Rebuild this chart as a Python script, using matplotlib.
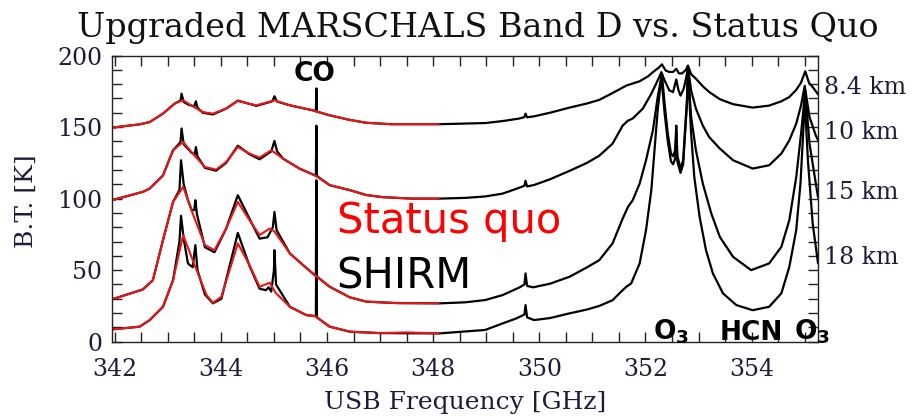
import numpy as np
import matplotlib
matplotlib.use("Agg")
import matplotlib.pyplot as plt
from matplotlib.ticker import MultipleLocator

# ---- data (frequency in GHz, brightness temperature in K) ----
altitudes = ["8.4 km", "10 km", "15 km", "18 km"]

# Status quo (red), 342-348 GHz only
sq_f_84 = [341.95, 342.47, 342.66, 342.91, 343.13, 343.29, 343.47, 343.66, 343.85, 344.10, 344.32,
           344.67, 345.01, 345.30, 345.73, 346.05, 346.43, 346.74, 347.20, 347.70, 348.10]
sq_t_84 = [149.6, 151.9, 153.5, 159.4, 166.4, 168.7, 164.5, 160.5, 159.4, 162.9, 168.2,
           165.2, 168.7, 165.2, 161.7, 158.2, 155.0, 153.0, 152.0, 152.0, 152.0]

sq_f_10 = [341.95, 342.53, 342.66, 342.91, 343.10, 343.29, 343.47, 343.70, 343.91, 344.10, 344.32,
           344.54, 344.73, 344.95, 345.17, 345.48, 345.77, 346.05, 346.43, 346.74, 347.05, 347.60, 348.10]
sq_t_10 = [98.9, 104.7, 107.0, 116.2, 133.8, 139.6, 131.5, 122.1, 120.3, 125.6, 136.0,
           131.5, 128.7, 133.8, 128.0, 121.0, 116.3, 109.4, 105.9, 102.5, 101.0, 100.0, 100.0]

sq_f_15 = [341.95, 342.53, 342.72, 342.91, 343.10, 343.29, 343.47, 343.70, 343.88, 344.10, 344.32,
           344.54, 344.73, 344.92, 345.01, 345.30, 345.55, 345.77, 346.05, 346.43, 346.74, 347.30, 348.10]
sq_t_15 = [29.6, 36.5, 43.0, 71.0, 97.7, 108.2, 89.6, 67.5, 64.0, 79.1, 97.7,
           84.9, 74.5, 79.1, 77.0, 61.7, 53.5, 46.5, 38.4, 31.0, 28.0, 27.0, 26.8]

sq_f_18 = [341.95, 342.47, 342.66, 342.91, 343.10, 343.29, 343.47, 343.73, 343.85, 344.01, 344.32,
           344.54, 344.73, 344.92, 345.04, 345.30, 345.61, 345.77, 346.05, 346.43, 347.00, 347.50, 348.10]
sq_t_18 = [8.6, 10.5, 15.1, 24.4, 43.0, 74.5, 57.0, 32.6, 27.2, 31.4, 68.7,
           53.5, 38.4, 41.2, 33.8, 24.4, 18.6, 17.9, 10.5, 7.0, 6.0, 6.5, 5.8]

# SHIRM (black), full band
sh_f_84 = [341.95, 342.47, 342.66, 342.91, 343.13, 343.24, 343.26, 343.30, 343.40, 343.50, 343.53,
           343.56, 343.66, 343.85, 344.10, 344.32, 344.67, 344.97, 345.01, 345.06, 345.30, 345.73,
           345.79, 345.80, 345.81, 346.05, 346.43, 346.74, 347.20, 347.70, 348.12, 348.98, 349.31,
           349.63, 349.72, 349.74, 349.77, 349.90, 350.20, 350.57, 350.90, 351.13, 351.38, 351.64,
           351.89, 352.05, 352.14, 352.25, 352.31, 352.38, 352.45, 352.52, 352.58, 352.63, 352.69,
           352.76, 352.80, 352.86, 352.95, 353.08, 353.20, 353.40, 353.65, 354.02, 354.33, 354.56,
           354.71, 354.84, 354.93, 355.01, 355.08, 355.15, 355.25]
sh_t_84 = [149.6, 151.9, 153.5, 159.4, 166.4, 168.5, 173.3, 167.5, 165.5, 164.5, 168.0,
           163.5, 160.0, 158.8, 162.9, 168.5, 164.8, 168.0, 171.5, 167.8, 165.2, 161.7,
           161.0, 177.0, 160.8, 158.2, 155.0, 153.0, 152.0, 152.0, 152.0, 152.8, 154.2,
           156.0, 157.0, 159.4, 156.8, 157.5, 160.0, 163.6, 166.5, 169.0, 173.8, 179.0,
           182.0, 185.5, 188.4, 191.5, 193.8, 189.5, 188.5, 188.5, 190.7, 187.5, 187.5,
           190.0, 193.0, 187.0, 183.8, 178.5, 174.5, 169.5, 166.0, 163.6, 165.0, 168.0,
           171.0, 176.0, 181.0, 189.0, 181.0, 178.0, 173.0]

sh_f_10 = [341.95, 342.53, 342.66, 342.91, 343.10, 343.24, 343.26, 343.30, 343.45, 343.51, 343.53,
           343.56, 343.70, 343.91, 344.10, 344.32, 344.54, 344.73, 344.95, 345.01, 345.06, 345.17,
           345.48, 345.77, 345.79, 345.80, 345.81, 346.05, 346.43, 346.74, 347.05, 347.60, 348.12,
           348.60, 348.98, 349.31, 349.63, 349.72, 349.74, 349.77, 349.90, 350.20, 350.57, 350.90,
           351.13, 351.38, 351.57, 351.67, 351.76, 351.95, 352.11, 352.23, 352.30, 352.36, 352.45,
           352.52, 352.58, 352.62, 352.66, 352.72, 352.77, 352.80, 352.86, 352.95, 353.08, 353.20,
           353.40, 353.65, 354.02, 354.33, 354.56, 354.71, 354.84, 354.93, 355.00, 355.09, 355.21,
           355.25]
sh_t_10 = [98.9, 104.7, 107.0, 116.2, 133.8, 139.5, 149.0, 138.0, 132.0, 131.0, 136.0,
           129.5, 121.5, 119.5, 125.0, 137.0, 131.0, 127.5, 133.0, 140.3, 133.0, 128.0,
           121.0, 116.3, 116.0, 151.0, 115.8, 109.4, 105.9, 102.5, 101.0, 100.0, 100.0,
           100.5, 101.5, 103.5, 107.7, 109.0, 112.5, 108.5, 109.5, 113.5, 119.4, 125.0,
           130.0, 138.4, 151.0, 154.5, 156.0, 162.9, 173.3, 182.6, 188.4, 182.6, 175.6,
           174.4, 183.3, 176.0, 172.0, 176.7, 185.0, 192.0, 175.6, 162.9, 151.0, 143.0,
           135.0, 126.8, 121.0, 123.3, 131.5, 140.7, 152.4, 165.0, 178.8, 157.0, 144.0,
           141.0]

sh_f_15 = [341.95, 342.53, 342.72, 342.91, 343.10, 343.22, 343.25, 343.30, 343.38, 343.45, 343.50,
           343.52, 343.55, 343.70, 343.88, 344.10, 344.32, 344.54, 344.73, 344.88, 344.98, 345.01,
           345.05, 345.30, 345.55, 345.77, 345.79, 345.80, 345.81, 346.05, 346.43, 346.74, 347.30,
           348.12, 348.60, 348.98, 349.31, 349.63, 349.72, 349.74, 349.77, 349.88, 350.20, 350.57,
           350.90, 351.13, 351.38, 351.57, 351.67, 351.76, 351.89, 352.01, 352.14, 352.23, 352.31,
           352.36, 352.42, 352.48, 352.52, 352.56, 352.58, 352.60, 352.66, 352.71, 352.74, 352.78,
           352.80, 352.86, 352.95, 353.08, 353.24, 353.40, 353.65, 353.99, 354.33, 354.56, 354.71,
           354.84, 354.93, 355.01, 355.09, 355.25]
sh_t_15 = [29.6, 36.5, 43.0, 71.0, 97.7, 106.0, 126.8, 110.0, 98.9, 92.0, 92.0,
           98.9, 89.0, 66.0, 62.5, 79.0, 102.4, 86.0, 72.0, 73.0, 80.0, 90.7,
           78.0, 61.7, 53.5, 46.5, 46.0, 112.8, 45.5, 38.4, 31.0, 28.0, 27.0,
           26.8, 27.5, 29.1, 32.6, 38.0, 40.0, 47.7, 39.0, 38.0, 40.5, 45.4,
           52.0, 57.0, 68.7, 86.0, 94.2, 98.9, 110.5, 126.8, 147.7, 171.0, 187.0,
           166.4, 145.4, 131.5, 129.6, 134.0, 151.0, 130.0, 121.0, 127.0, 145.0, 168.0,
           190.8, 157.0, 133.8, 110.5, 89.6, 73.3, 59.3, 50.0, 54.7, 66.3, 85.0,
           115.0, 145.0, 175.6, 138.4, 101.0]

sh_f_18 = [341.95, 342.47, 342.66, 342.91, 343.10, 343.22, 343.25, 343.30, 343.38, 343.47, 343.52,
           343.56, 343.70, 343.85, 344.01, 344.32, 344.54, 344.73, 344.85, 344.90, 344.95, 345.00,
           345.01, 345.04, 345.30, 345.61, 345.77, 345.79, 345.80, 345.81, 346.05, 346.43, 347.00,
           348.12, 348.98, 349.31, 349.57, 349.72, 349.74, 349.77, 349.90, 350.20, 350.57, 350.90,
           351.13, 351.38, 351.57, 351.64, 351.73, 351.89, 352.01, 352.11, 352.17, 352.23, 352.30,
           352.36, 352.42, 352.48, 352.52, 352.56, 352.58, 352.60, 352.66, 352.71, 352.74, 352.78,
           352.80, 352.86, 352.92, 353.02, 353.14, 353.27, 353.46, 353.71, 354.02, 354.33, 354.56,
           354.71, 354.84, 354.92, 354.97, 355.00, 355.06, 355.15, 355.25]
sh_t_18 = [8.6, 10.5, 15.1, 24.4, 43.0, 70.0, 88.0, 72.0, 54.7, 52.0, 67.5,
           50.0, 33.0, 26.8, 30.0, 76.0, 53.0, 37.0, 36.0, 38.0, 35.0, 50.0,
           64.0, 40.0, 24.4, 18.6, 17.9, 17.8, 80.0, 17.0, 10.5, 7.0, 6.0,
           5.8, 8.2, 12.8, 16.3, 19.0, 25.6, 17.0, 15.1, 16.5, 19.8, 22.5,
           25.0, 29.0, 36.0, 38.4, 40.7, 54.7, 77.9, 105.9, 133.8, 161.7, 185.0,
           160.0, 140.0, 126.0, 124.0, 128.0, 146.0, 126.0, 118.0, 124.0, 142.0, 165.0,
           190.0, 145.4, 115.0, 87.2, 64.0, 47.7, 33.8, 25.6, 22.0, 24.4, 33.8,
           52.3, 78.0, 110.5, 145.0, 170.0, 126.8, 82.6, 55.0]

sq_series = [(sq_f_84, sq_t_84), (sq_f_10, sq_t_10), (sq_f_15, sq_t_15), (sq_f_18, sq_t_18)]
sh_series = [(sh_f_84, sh_t_84), (sh_f_10, sh_t_10), (sh_f_15, sh_t_15), (sh_f_18, sh_t_18)]
alt_label_y = [0.790, 0.684, 0.541, 0.386]   # figure fraction

# ---- plot ----
serif = ["DejaVu Serif"]
ink = "#1d1d3a"

fig = plt.figure(figsize=(9.16, 4.19), dpi=100)
ax = fig.add_axes([0.1223, 0.1845, 0.7707, 0.683])

for f, t in sh_series:
    ax.plot(f, t, color="black", lw=1.6, solid_joinstyle="round")
for f, t in sq_series:
    ax.plot(f, t, color="#ec1515", lw=1.5, solid_joinstyle="round")

ax.set_xlim(341.95, 355.25)
ax.set_ylim(0, 200)
ax.xaxis.set_major_locator(MultipleLocator(2))
ax.xaxis.set_minor_locator(MultipleLocator(0.5))
ax.yaxis.set_major_locator(MultipleLocator(50))
ax.yaxis.set_minor_locator(MultipleLocator(10))
ax.tick_params(which="both", direction="in", top=True, right=True, length=7,
               width=1.0, color="#222222")
ax.tick_params(axis="x", pad=12, labelsize=17, labelcolor=ink)
ax.tick_params(axis="y", pad=7, labelsize=17, labelcolor=ink)
for lab in ax.get_xticklabels() + ax.get_yticklabels():
    lab.set_family(serif)
for sp in ax.spines.values():
    sp.set_color("#222222")
    sp.set_linewidth(1.0)

ax.set_xlabel("USB Frequency [GHz]", family=serif, fontsize=18, color=ink, labelpad=7)
ax.set_ylabel("B.T. [K]", family=serif, fontsize=18, color=ink)
ax.yaxis.set_label_coords(-0.105, 0.49)

fig.text(0.522, 0.932, "Upgraded MARSCHALS Band D vs. Status Quo", family=serif,
         fontsize=24, color="#111111", ha="center", va="center")

for name, yy in zip(altitudes, alt_label_y):
    fig.text(0.900, yy, name, family=serif, fontsize=17, color=ink, ha="left", va="center")

# species labels
bold = dict(family="DejaVu Sans", fontweight="bold", fontsize=19, color="black")
ax.text(345.77, 187, "CO", ha="center", va="center", **bold)
ax.text(352.15, 1.5, r"O$_\mathbf{3}$", ha="left", va="baseline", **bold)
ax.text(354.0, 1.5, "HCN", ha="center", va="baseline", **bold)
ax.text(354.8, 1.5, r"O$_\mathbf{3}$", ha="left", va="baseline", **bold)

# legend-style labels
ax.text(346.18, 76, "Status quo", family="DejaVu Sans", fontsize=30, color="#ff0000",
        va="baseline", ha="left")
ax.text(346.18, 37, "SHIRM", family="DejaVu Sans", fontsize=30, color="black",
        va="baseline", ha="left")

fig.savefig("out.png", dpi=100)
